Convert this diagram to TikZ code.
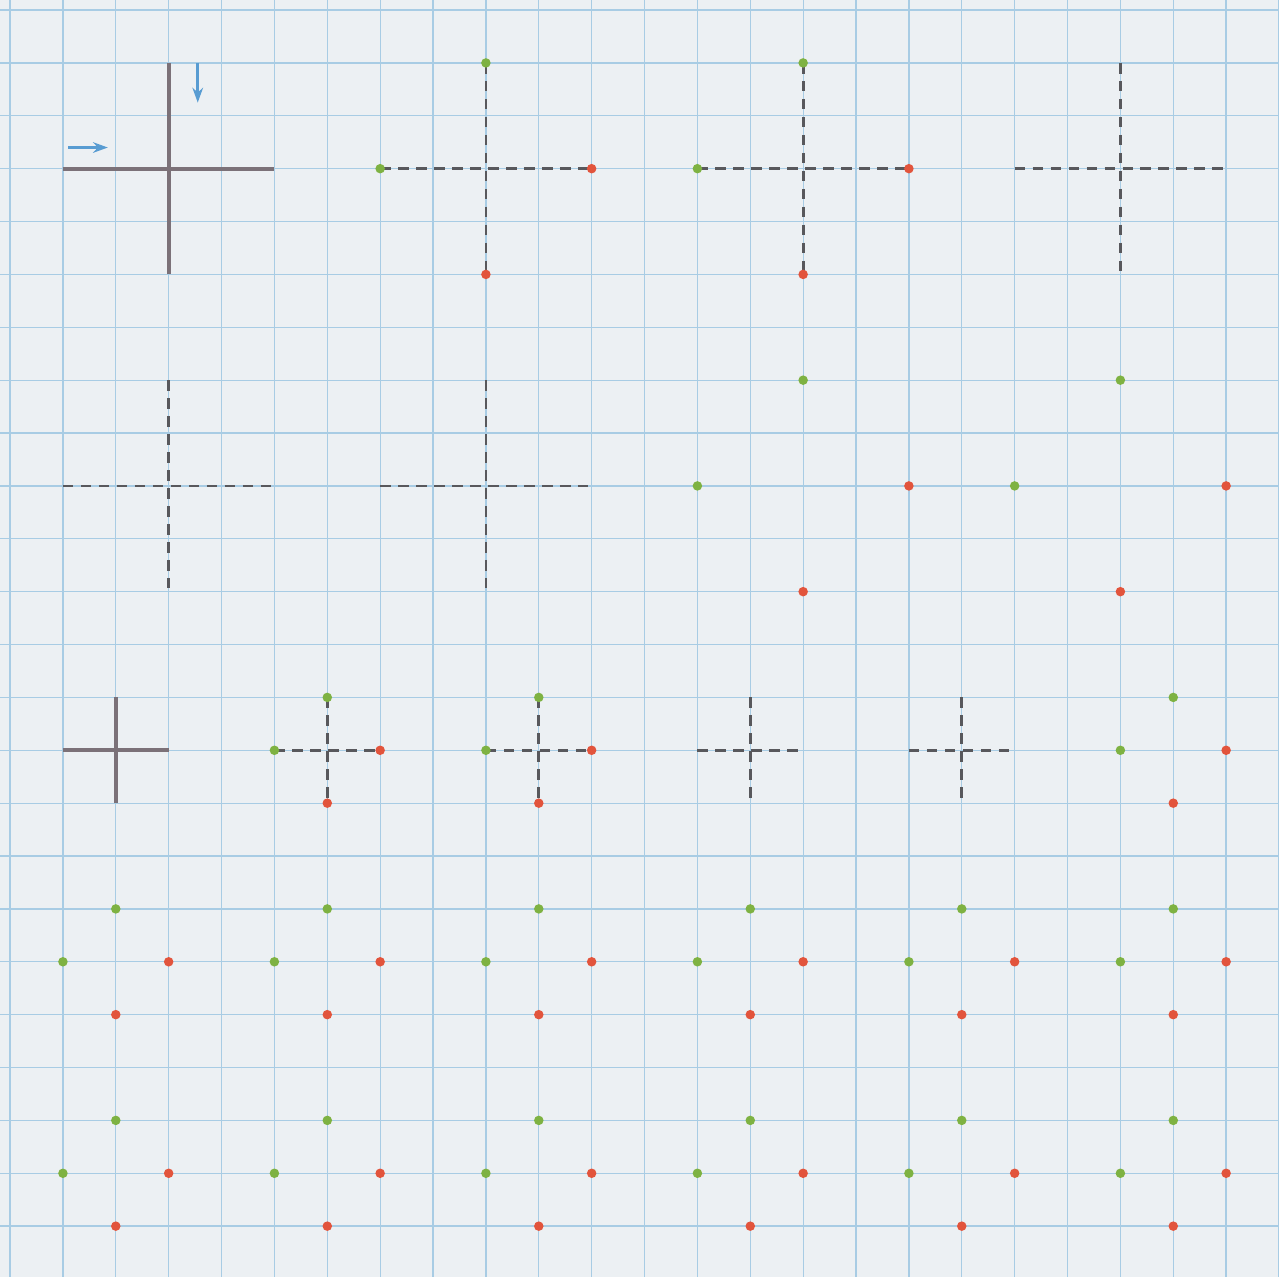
\documentclass[tikz,border=0pt]{standalone}
\usepackage{tikz}
\usetikzlibrary{arrows.meta}
\usepackage{xcolor}

\definecolor{paper}{RGB}{236,240,243}
\definecolor{gridblue}{RGB}{168,204,228}
\definecolor{crossgrey}{RGB}{123,113,120}
\definecolor{dashgrey}{RGB}{88,88,92}
\definecolor{dotgreen}{RGB}{126,178,66}
\definecolor{dotred}{RGB}{226,84,60}
\definecolor{arrowblue}{RGB}{88,156,210}

\begin{document}
\begin{tikzpicture}[x=1cm,y=-1cm,
  gridline/.style={draw=gridblue,line width=0.7pt},
  arm/.style={draw=crossgrey,line width=2.1pt},
  dasharm/.style={draw=dashgrey,line width=1.5pt,dash pattern=on 0.2cm off 0.14cm},
  gdot/.style={circle,fill=dotgreen,inner sep=0pt,minimum size=0.18cm},
  rdot/.style={circle,fill=dotred,inner sep=0pt,minimum size=0.18cm},
  hint/.style={-{Stealth[length=0.28cm,width=0.2cm]},draw=arrowblue,line width=1.5pt}]

\useasboundingbox (-0.19,-0.19) rectangle (24,23.96);
\fill[paper] (-0.19,-0.19) rectangle (24,23.96);
\draw[gridline] (-0.19,-0.19) grid (24,23.96);

% solid crosses
\foreach \cx/\cy/\r in {3/3/2, 2/14/1}{
  \coordinate (s\cx-\cy-n) at (\cx,{\cy-\r});
  \coordinate (s\cx-\cy-s) at (\cx,{\cy+\r});
  \coordinate (s\cx-\cy-w) at ({\cx-\r},\cy);
  \coordinate (s\cx-\cy-e) at ({\cx+\r},\cy);
  \draw[arm] (s\cx-\cy-w) -- (s\cx-\cy-e);
  \draw[arm] (s\cx-\cy-n) -- (s\cx-\cy-s);
}

% direction hints
\coordinate (right0) at (1.1,2.6);
\coordinate (right1) at (1.85,2.6);
\coordinate (down0) at (3.55,1.0);
\coordinate (down1) at (3.55,1.75);
\draw[hint] (right0) -- (right1);
\draw[hint] (down0) -- (down1);

% dashed crosses, with or without dots
\foreach \cx/\cy/\r in {9/3/2, 15/3/2, 21/3/2, 3/9/2, 9/9/2, 6/14/1, 10/14/1, 14/14/1, 18/14/1}{
  \coordinate (d\cx-\cy-n) at (\cx,{\cy-\r});
  \coordinate (d\cx-\cy-s) at (\cx,{\cy+\r});
  \coordinate (d\cx-\cy-w) at ({\cx-\r},\cy);
  \coordinate (d\cx-\cy-e) at ({\cx+\r},\cy);
  \draw[dasharm] (d\cx-\cy-w) -- (d\cx-\cy-e);
  \draw[dasharm] (d\cx-\cy-n) -- (d\cx-\cy-s);
}

% dots: green at top and left, red at right and bottom
\foreach \cx/\cy/\r in {9/3/2, 15/3/2, 15/9/2, 21/9/2, 6/14/1, 10/14/1, 22/14/1,
  2/18/1, 6/18/1, 10/18/1, 14/18/1, 18/18/1, 22/18/1,
  2/22/1, 6/22/1, 10/22/1, 14/22/1, 18/22/1, 22/22/1}{
  \node[gdot] (p\cx-\cy-n) at (\cx,{\cy-\r}) {};
  \node[gdot] (p\cx-\cy-w) at ({\cx-\r},\cy) {};
  \node[rdot] (p\cx-\cy-e) at ({\cx+\r},\cy) {};
  \node[rdot] (p\cx-\cy-s) at (\cx,{\cy+\r}) {};
}

\end{tikzpicture}
\end{document}
